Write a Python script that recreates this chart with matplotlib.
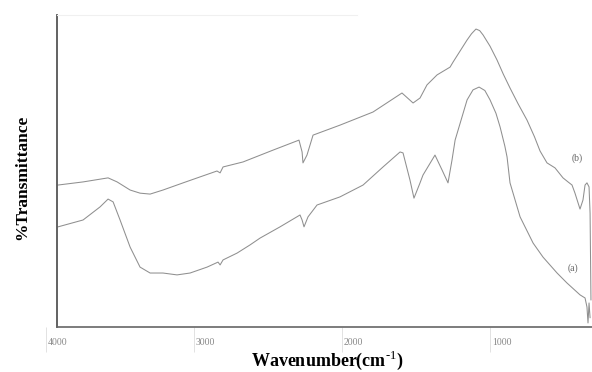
import matplotlib
matplotlib.use("Agg")
import matplotlib.pyplot as plt
import matplotlib.transforms as mtransforms

# ---- data ----
wn_a = [3919, 3750, 3635, 3581, 3547, 3500, 3432, 3365, 3297, 3210, 3115, 3027,
        2912, 2838, 2824, 2804, 2709, 2622, 2554, 2419, 2284, 2270, 2257, 2230,
        2169, 2014, 1858, 1723, 1608, 1588, 1541, 1514, 1473, 1453, 1372, 1324,
        1284, 1257, 1236, 1155, 1115, 1074, 1035, 1000, 960, 932, 900, 885, 865,
        797, 709, 642, 547, 480, 392, 358, 345, 338, 331, 324]
t_a = [32.1, 34.3, 38.5, 41.0, 40.1, 34.3, 25.6, 19.2, 17.3, 17.3, 16.7, 17.3,
       19.2, 20.8, 19.9, 21.5, 23.7, 26.3, 28.5, 32.1, 35.9, 34.3, 32.1, 35.3,
       39.1, 41.7, 45.5, 51.3, 56.1, 55.8, 47.1, 41.3, 46.2, 48.7, 55.1, 50.3,
       46.2, 53.5, 59.9, 72.8, 76.0, 76.9, 75.8, 72.8, 68.5, 64.1, 58.0, 54.5, 46.2,
       35.3, 26.9, 22.4, 17.3, 14.1, 10.3, 9.3, 6.4, 1.3, 7.7, 3.0]

wn_b = [3919, 3750, 3581, 3520, 3432, 3365, 3297, 3210, 3074, 2960, 2845, 2824,
        2804, 2669, 2466, 2291, 2270, 2264, 2237, 2196, 2014, 1791, 1595, 1520,
        1473, 1426, 1358, 1270, 1250, 1155, 1125, 1095, 1070, 1047, 1000, 953, 910,
        865, 810, 750, 700, 662, 615, 561, 507, 473, 446, 426, 392, 372, 358, 345,
        331, 324, 318]
t_b = [45.5, 46.5, 47.8, 46.5, 43.9, 42.9, 42.6, 43.9, 46.2, 48.1, 50.0, 49.4,
       51.3, 52.9, 56.7, 59.9, 56.1, 52.6, 55.1, 61.5, 64.7, 68.9, 75.0, 71.8,
       73.4, 77.6, 80.8, 83.3, 84.9, 92.0, 94.0, 95.5, 95.0, 93.6, 90.0, 85.6, 81.0,
       76.6, 71.5, 66.3, 61.0, 56.4, 52.6, 51.0, 47.8, 46.5, 45.5, 42.9, 37.8, 40.7,
       45.5, 46.2, 44.9, 36.5, 8.7]

tick_values = [4000, 3000, 2000, 1000]
tick_labels = ["4000", "3000", "2000", "1000"]
curve_names = ["(a)", "(b)"]

# ---- figure ----
plt.rcParams["mathtext.fontset"] = "custom"
plt.rcParams["mathtext.rm"] = "Liberation Serif"
plt.rcParams["mathtext.bf"] = "Liberation Serif:bold"

W, H = 592, 372
fig = plt.figure(figsize=(W / 100, H / 100), dpi=100)
fig.patch.set_facecolor("white")

x_left, x_right = 4041, 311
left_edge = 3926
ax = fig.add_axes([40 / W, (H - 327) / H, 552 / W, 312 / H])
ax.set_xlim(x_left, x_right)
ax.set_ylim(0, 100)

line_col = "#8f8f8f"
ax.plot(wn_a, t_a, color=line_col, lw=0.75)
ax.plot(wn_b, t_b, color=line_col, lw=0.75)

ax.text(439, 18.9, curve_names[0], fontsize=7, color="#666666",
        family="Liberation Serif", ha="center", va="center")
ax.text(412, 54.2, curve_names[1], fontsize=7, color="#666666",
        family="Liberation Serif", ha="center", va="center")

# spines
ax.spines["right"].set_visible(False)
ax.spines["top"].set_color("#f0f0f0")
ax.spines["top"].set_linewidth(0.8)
ax.spines["top"].set_bounds(left_edge, 1900)
ax.spines["left"].set_position(("data", left_edge))
ax.spines["left"].set_color("#555555")
ax.spines["left"].set_linewidth(1.3)
ax.spines["bottom"].set_bounds(left_edge, x_right)
ax.spines["bottom"].set_color("#666666")
ax.spines["bottom"].set_linewidth(1.2)

ax.set_yticks([])
ax.set_xticks(tick_values)
ax.set_xticklabels(tick_labels, ha="left", fontsize=7, color="#888888",
                   family="Liberation Serif")
ax.tick_params(axis="x", direction="out", length=18, width=0.6,
               color="#dddddd", pad=-10)
offset = mtransforms.ScaledTranslation(2 / 100, 0, fig.dpi_scale_trans)
for lab in ax.get_xticklabels():
    lab.set_transform(lab.get_transform() + offset)

ax.set_xlabel(r"Wavenumber(cm$^{\text{-1}}$)", fontsize=13, fontweight="bold",
              family="Liberation Serif", va="center")
ax.xaxis.set_label_coords((327 - 40) / 552, (327 - 360) / 312)
ax.set_ylabel("%Transmittance", fontsize=12.5, fontweight="bold",
              family="Liberation Serif", va="center")
ax.yaxis.set_label_coords((22 - 40) / 552, (327 - 177) / 312)

fig.savefig("out.png", dpi=100, facecolor="white")
